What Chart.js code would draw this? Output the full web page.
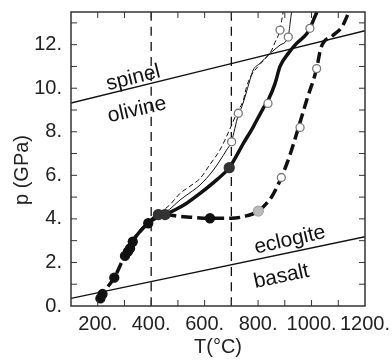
<!DOCTYPE html>
<html>
<head>
<meta charset="utf-8">
<script src="https://cdn.jsdelivr.net/npm/chart.js@4.4.0/dist/chart.umd.min.js"></script>
<style>
  html, body { margin: 0; padding: 0; background: #fff; }
  canvas { display: block; }
</style>
</head>
<body>
<canvas id="ptChart" width="392" height="362"></canvas>
<script>
// Trayectorias p-T (T en ºC, p en GPa)
const thickSolidT = [321, 331, 360, 389, 420, 455, 490, 533, 583, 645, 692, 745, 782, 819, 838, 863, 882, 913, 944, 982, 994, 1013, 1020];
const thickSolidP = [2.6, 2.95, 3.45, 3.8, 4.05, 4.22, 4.42, 4.72, 5.17, 5.79, 6.35, 7.47, 8.23, 9.08, 9.46, 10.2, 11.0, 11.6, 12.06, 12.5, 12.75, 13.3, 13.5];

const thickDashT = [206, 215, 262, 302, 321, 331, 360, 389, 427, 455, 500, 545, 620, 700, 760, 801, 851, 887, 919, 950, 982, 1019, 1035, 1078, 1113, 1140];
const thickDashP = [0.28, 0.5, 1.3, 2.3, 2.6, 2.95, 3.45, 3.8, 4.18, 4.2, 4.12, 4.08, 4.03, 4.03, 4.15, 4.36, 5.02, 5.9, 6.93, 8.15, 9.46, 10.9, 11.85, 12.4, 12.8, 13.5];

const thinSolidT = [440, 470, 508, 545, 583, 630, 682, 700, 726, 739, 751, 770, 782, 807, 845, 882, 913, 920, 925];
const thinSolidP = [4.2, 4.45, 4.87, 5.2, 5.56, 6.2, 7.16, 7.55, 8.77, 9.15, 9.6, 10.4, 10.84, 11.14, 11.6, 11.98, 12.4, 13.0, 13.5];

const thinDashT = [430, 470, 508, 545, 583, 620, 657, 690, 720, 745, 757, 775, 800, 830, 851, 863, 882, 888, 894];
const thinDashP = [4.25, 4.65, 5.17, 5.5, 5.86, 6.5, 7.16, 8.0, 8.85, 9.46, 10.07, 10.6, 11.0, 11.4, 11.75, 12.1, 12.67, 13.1, 13.5];

// marcadores
const blackDotT = [210, 218, 262, 302, 313, 321, 331, 389, 620];
const blackDotP = [0.35, 0.55, 1.3, 2.3, 2.5, 2.65, 2.95, 3.8, 4.03];
const darkDotT = [427, 452, 692];
const darkDotP = [4.2, 4.2, 6.35];
const greyDotT = [801];
const greyDotP = [4.36];
const openDotT = [701, 726, 837, 882, 913, 994, 887, 957, 1019];
const openDotP = [7.54, 8.85, 9.3, 12.67, 12.35, 12.75, 5.9, 8.2, 10.9];

// límites de fase y líneas verticales
const spinelT = [100, 1200];
const spinelP = [9.32, 12.64];
const eclogiteT = [100, 1200];
const eclogiteP = [0.35, 3.18];
const vLinesT = [400, 700];

// ejes
const xLabelValues = [200, 400, 600, 800, 1000, 1200];
const yLabelValues = [0, 2, 4, 6, 8, 10, 12];

const phaseLabels = ['spinel', 'olivine', 'eclogite', 'basalt'];
const phaseLabelT = [333, 347, 919, 887];
const phaseLabelP = [10.47, 9.0, 3.03, 1.35];
const phaseLabelAngle = [-14, -13, -13, -12];

const pts = (T, P) => T.map((t, i) => ({ x: t, y: P[i] }));

const lineSet = (data, width, dash) => ({
  data,
  showLine: true,
  borderColor: '#111',
  borderWidth: width,
  borderDash: dash,
  pointRadius: 0,
  fill: false,
  cubicInterpolationMode: 'monotone'
});

const dotSet = (data, fillColor, edge, r) => ({
  data,
  showLine: false,
  pointRadius: r,
  pointBackgroundColor: fillColor,
  pointBorderColor: edge,
  pointBorderWidth: 1.3
});

// marco, ticks hacia dentro y textos de fase
const framePlugin = {
  id: 'framePlugin',
  afterDatasetsDraw(chart) {
    const { ctx, chartArea: a, scales: { x, y } } = chart;
    ctx.save();
    ctx.strokeStyle = '#333';
    ctx.lineWidth = 1.5;
    ctx.strokeRect(a.left, a.top, a.right - a.left, a.bottom - a.top);
    ctx.lineWidth = 1;
    ctx.beginPath();
    for (let t = 200; t < 1200; t += 100) {
      const px = x.getPixelForValue(t);
      ctx.moveTo(px, a.bottom); ctx.lineTo(px, a.bottom - 6);
      ctx.moveTo(px, a.top); ctx.lineTo(px, a.top + 6);
    }
    for (let p = 1; p <= 13; p++) {
      const py = y.getPixelForValue(p);
      ctx.moveTo(a.left, py); ctx.lineTo(a.left + 6, py);
      ctx.moveTo(a.right, py); ctx.lineTo(a.right - 6, py);
    }
    ctx.stroke();

    ctx.fillStyle = '#111';
    ctx.font = '21px "Liberation Sans", Arial, sans-serif';
    ctx.textAlign = 'center';
    ctx.textBaseline = 'middle';
    phaseLabels.forEach((txt, i) => {
      ctx.save();
      ctx.translate(x.getPixelForValue(phaseLabelT[i]), y.getPixelForValue(phaseLabelP[i]));
      ctx.rotate(phaseLabelAngle[i] * Math.PI / 180);
      ctx.fillText(txt, 0, 0);
      ctx.restore();
    });

    // título del eje y
    ctx.save();
    ctx.translate(22, 170);
    ctx.rotate(-Math.PI / 2);
    ctx.fillStyle = '#222';
    ctx.font = '20px "Liberation Sans", Arial, sans-serif';
    ctx.fillText('p (GPa)', 0, 0);
    ctx.restore();
    ctx.restore();
  }
};

new Chart(document.getElementById('ptChart'), {
  type: 'scatter',
  data: {
    datasets: [
      dotSet(pts(openDotT, openDotP), '#fff', '#777', 4),
      dotSet(pts(greyDotT, greyDotP), '#bbb', '#aaa', 5),
      dotSet(pts(darkDotT, darkDotP), '#333', '#333', 5),
      dotSet(pts(blackDotT, blackDotP), '#111', '#111', 4.5),
      lineSet(pts(thinSolidT, thinSolidP), 1, []),
      lineSet(pts(thinDashT, thinDashP), 1, [5, 3]),
      lineSet(pts(thickSolidT, thickSolidP), 3.5, []),
      lineSet(pts(thickDashT, thickDashP), 3.5, [11, 5]),
      ...vLinesT.map(t => lineSet([{ x: t, y: 0 }, { x: t, y: 13.5 }], 1.3, [9, 6])),
      lineSet(pts(spinelT, spinelP), 1.3, []),
      lineSet(pts(eclogiteT, eclogiteP), 1.3, [])
    ]
  },
  options: {
    responsive: false,
    animation: false,
    devicePixelRatio: 1,
    layout: { padding: { left: 0, right: 27, top: 12, bottom: 0 } },
    plugins: {
      legend: { display: false },
      tooltip: { enabled: false }
    },
    scales: {
      x: {
        type: 'linear',
        min: 100,
        max: 1200,
        grid: { display: false, drawTicks: false },
        border: { display: false },
        ticks: {
          stepSize: 100,
          autoSkip: false,
          maxRotation: 0,
          minRotation: 0,
          padding: 6,
          color: '#222',
          font: { family: '"Liberation Sans", Arial, sans-serif', size: 20 },
          callback: v => xLabelValues.includes(v) ? v + '.' : ''
        },
        title: {
          display: true,
          text: 'T(°C)',
          color: '#222',
          padding: { top: 0, bottom: 3 },
          font: { family: '"Liberation Sans", Arial, sans-serif', size: 20 }
        },
        afterFit: s => { s.height = 56; s.paddingLeft = 0; s.paddingRight = 0; }
      },
      y: {
        min: 0,
        max: 13.5,
        grid: { display: false, drawTicks: false },
        border: { display: false },
        ticks: {
          stepSize: 1,
          autoSkip: false,
          padding: 9,
          color: '#222',
          font: { family: '"Liberation Sans", Arial, sans-serif', size: 20 },
          callback: v => yLabelValues.includes(v) ? v + '.' : ''
        },
        afterFit: s => { s.width = 71; s.paddingTop = 0; s.paddingBottom = 0; }
      }
    }
  },
  plugins: [framePlugin]
});
</script>
</body>
</html>
